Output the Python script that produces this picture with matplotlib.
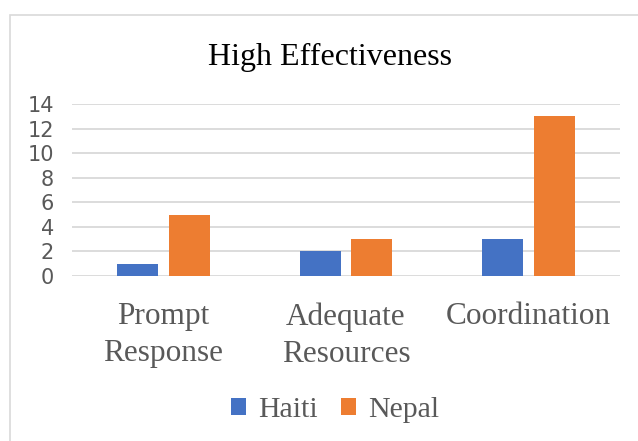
import matplotlib
matplotlib.use("Agg")
import matplotlib.pyplot as plt
from matplotlib.patches import Rectangle, Patch
import numpy as np

categories = ["Prompt\nResponse", "Adequate\nResources", "Coordination"]
haiti = [1, 2, 3]
nepal = [5, 3, 13]
series_names = ["Haiti", "Nepal"]
yticks = [0, 2, 4, 6, 8, 10, 12, 14]

blue = "#4472C4"
orange = "#ED7D31"
grey_text = "#595959"
grid_col = "#D9D9D9"
serif = "Liberation Serif"

W, H = 638, 441
fig = plt.figure(figsize=(W / 100, H / 100), dpi=100)

# outer chart frame (runs off the right and bottom edge)
fig.patches.append(Rectangle((10 / W, -0.05), 1.1, 1 - 15 / H + 0.05,
                             transform=fig.transFigure, fill=False,
                             edgecolor=grid_col, linewidth=1.2))

ax = fig.add_axes([72 / W, 1 - 276 / H, (620 - 72) / W, (276 - 104) / H])

x = np.arange(len(categories))
bw = 0.224
off = 0.142
ax.bar(x - off, haiti, bw, color=blue, zorder=3)
ax.bar(x + off, nepal, bw, color=orange, zorder=3)

ax.set_xlim(-0.5, len(categories) - 0.5)
ax.set_ylim(0, 14)
ax.set_yticks(yticks)
ax.set_yticklabels([str(v) for v in yticks], fontsize=15, color=grey_text,
                   family="DejaVu Sans")
ax.set_xticks(x)
ax.set_xticklabels(categories, fontsize=22.5, family=serif, color=grey_text,
                   linespacing=1.36)
ax.tick_params(axis="both", length=0)
ax.tick_params(axis="y", pad=13)
ax.tick_params(axis="x", pad=19)
for s in ax.spines.values():
    s.set_visible(False)
for v in yticks:
    ax.axhline(v, color=grid_col, linewidth=1.3, zorder=1)

fig.text(330 / W, 1 - 57 / H, "High Effectiveness", ha="center", va="center",
         fontsize=23, family=serif, color="black")

handles = [Patch(facecolor=blue), Patch(facecolor=orange)]
fig.legend(handles, series_names, loc="center", bbox_to_anchor=(335 / W, 1 - 410 / H),
           ncol=2, frameon=False, handlelength=0.5, handleheight=0.5,
           handletextpad=0.4, columnspacing=0.8,
           prop={"family": serif, "size": 21.5}, labelcolor=grey_text)

fig.savefig("out.png", dpi=100)
